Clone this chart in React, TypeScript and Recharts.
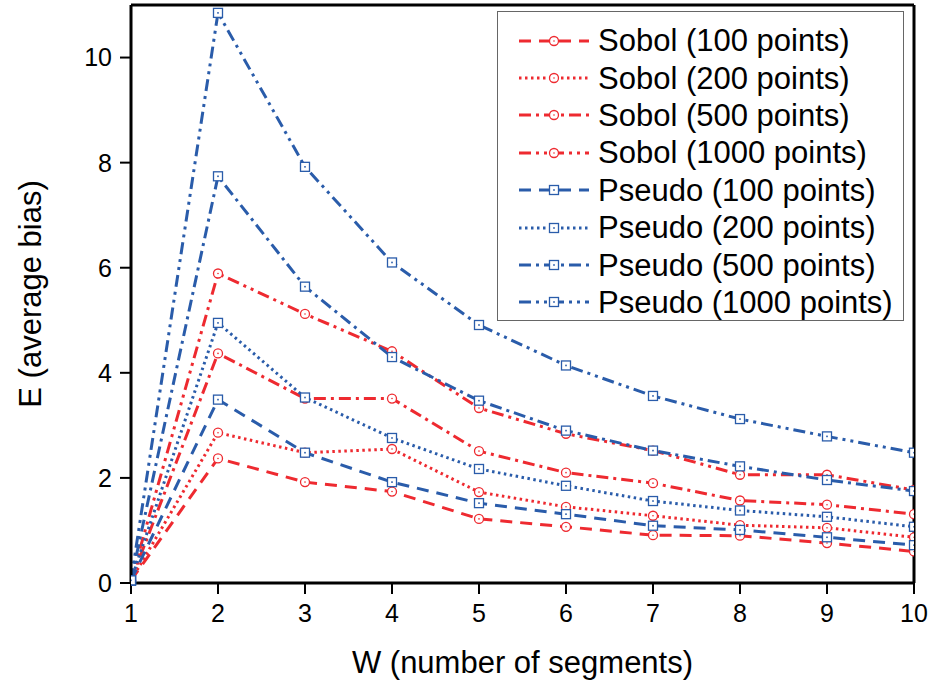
import React from "react";
import { Legend, Line, LineChart, XAxis, YAxis } from "recharts";

// W values (number of segments)
const W = [1, 2, 3, 4, 5, 6, 7, 8, 9, 10];

const sobol100 = [0.05, 2.37, 1.92, 1.74, 1.22, 1.07, 0.91, 0.9, 0.76, 0.6];
const sobol200 = [0.05, 2.86, 2.48, 2.55, 1.73, 1.45, 1.28, 1.1, 1.05, 0.87];
const sobol500 = [0.05, 4.37, 3.51, 3.51, 2.51, 2.1, 1.9, 1.57, 1.49, 1.31];
const sobol1000 = [0.05, 5.89, 5.12, 4.41, 3.33, 2.84, 2.52, 2.06, 2.06, 1.77];
const pseudo100 = [0.05, 3.49, 2.48, 1.92, 1.52, 1.31, 1.09, 1.01, 0.87, 0.72];
const pseudo200 = [0.05, 4.95, 3.53, 2.76, 2.17, 1.85, 1.56, 1.38, 1.26, 1.07];
const pseudo500 = [0.05, 7.74, 5.64, 4.3, 3.47, 2.9, 2.52, 2.22, 1.96, 1.75];
const pseudo1000 = [0.05, 10.85, 7.92, 6.1, 4.91, 4.14, 3.56, 3.12, 2.79, 2.48];

const yTicks = [0, 2, 4, 6, 8, 10];

const RED = "#ee2a30";
const BLUE = "#2a5caa";
const FONT = "'Liberation Sans', Arial, sans-serif";

const DASHED = "12 8";
const DOTTED = "2.5 3.5";
const DASH_DOT = "12 5 3 5";
const DASH_DOT_DOT = "12 5 3 5 3 5";

type Series = { key: string; name: string; color: string; dash: string; shape: "circle" | "square"; values: number[] };

const series: Series[] = [
  { key: "s100", name: "Sobol (100 points)", color: RED, dash: DASHED, shape: "circle", values: sobol100 },
  { key: "s200", name: "Sobol (200 points)", color: RED, dash: DOTTED, shape: "circle", values: sobol200 },
  { key: "s500", name: "Sobol (500 points)", color: RED, dash: DASH_DOT, shape: "circle", values: sobol500 },
  { key: "s1000", name: "Sobol (1000 points)", color: RED, dash: DASH_DOT_DOT, shape: "circle", values: sobol1000 },
  { key: "p100", name: "Pseudo (100 points)", color: BLUE, dash: DASHED, shape: "square", values: pseudo100 },
  { key: "p200", name: "Pseudo (200 points)", color: BLUE, dash: DOTTED, shape: "square", values: pseudo200 },
  { key: "p500", name: "Pseudo (500 points)", color: BLUE, dash: DASH_DOT, shape: "square", values: pseudo500 },
  { key: "p1000", name: "Pseudo (1000 points)", color: BLUE, dash: DASH_DOT_DOT, shape: "square", values: pseudo1000 },
];

const data = W.map((w, i) => {
  const row: Record<string, number> = { w };
  series.forEach((s) => (row[s.key] = s.values[i]));
  return row;
});

function Marker({ cx, cy, s }: { cx: number; cy: number; s: Series }) {
  if (cx == null || cy == null) return null;
  if (s.shape === "circle") {
    return (
      <g>
        <circle cx={cx} cy={cy} r={4.5} fill="#fff" stroke={s.color} strokeWidth={1.3} />
        <circle cx={cx} cy={cy} r={0.8} fill={s.color} />
      </g>
    );
  }
  return (
    <g>
      <rect x={cx - 4.5} y={cy - 4.5} width={9} height={9} fill="#fff" stroke={s.color} strokeWidth={1.3} />
      <rect x={cx - 0.8} y={cy - 0.8} width={1.6} height={1.6} fill={s.color} />
    </g>
  );
}

function LegendBox() {
  return (
    <div
      style={{
        width: 407,
        height: 310,
        border: "1.5px solid #666",
        background: "#fff",
        boxSizing: "border-box",
        paddingTop: 10,
        fontFamily: FONT,
      }}
    >
      {series.map((s) => (
        <div key={s.key} style={{ display: "flex", alignItems: "center", height: 37.4 }}>
          <svg width={70} height={20} style={{ marginLeft: 21, flex: "none" }}>
            <line x1={0} y1={10} x2={70} y2={10} stroke={s.color} strokeWidth={3} strokeDasharray={s.dash} />
            <Marker cx={35} cy={10} s={s} />
          </svg>
          <span style={{ marginLeft: 9, fontSize: 31, color: "#000", whiteSpace: "nowrap", lineHeight: 1 }}>{s.name}</span>
        </div>
      ))}
    </div>
  );
}

export default function App() {
  return (
    <div style={{ position: "absolute", left: 0, top: 0, background: "#fff" }}>
      <LineChart width={930} height={682} data={data} margin={{ top: 0, right: 6, bottom: 39, left: 61 }}>
        <XAxis
          dataKey="w"
          type="number"
          domain={[1, 10]}
          ticks={W}
          allowDataOverflow
          height={60}
          axisLine={{ stroke: "#000", strokeWidth: 3 }}
          tickLine={{ stroke: "#000", strokeWidth: 2 }}
          tickSize={11}
          tickMargin={10}
          tick={{ fill: "#000", fontSize: 25, fontFamily: FONT }}
          label={{
            content: (p: any) => {
              const vb = p.viewBox;
              return (
                <text x={vb.x + vb.width / 2} y={vb.y + 90} textAnchor="middle" fontSize={31} fontFamily={FONT} fill="#000">
                  W (number of segments)
                </text>
              );
            },
          }}
        />
        <XAxis
          xAxisId="top"
          dataKey="w"
          type="number"
          orientation="top"
          domain={[1, 10]}
          ticks={W}
          height={5}
          tick={false}
          tickSize={5}
          axisLine={{ stroke: "#000", strokeWidth: 3 }}
          tickLine={{ stroke: "#000", strokeWidth: 1.5 }}
        />
        <YAxis
          type="number"
          domain={[0, 11]}
          ticks={yTicks}
          width={70}
          axisLine={{ stroke: "#000", strokeWidth: 3 }}
          tickLine={{ stroke: "#000", strokeWidth: 2 }}
          tickSize={11}
          tickMargin={8}
          tick={{ fill: "#000", fontSize: 25, fontFamily: FONT }}
          label={{
            content: (p: any) => {
              const vb = p.viewBox;
              const x = vb.x - 31;
              const y = vb.y + vb.height / 2;
              return (
                <text
                  x={x}
                  y={y}
                  transform={`rotate(-90, ${x}, ${y})`}
                  textAnchor="middle"
                  dominantBaseline="central"
                  fontSize={31}
                  fontFamily={FONT}
                  fill="#000"
                >
                  E (average bias)
                </text>
              );
            },
          }}
        />
        <YAxis
          yAxisId="right"
          orientation="right"
          type="number"
          domain={[0, 11]}
          ticks={yTicks}
          width={10}
          tick={false}
          tickSize={5}
          axisLine={{ stroke: "#000", strokeWidth: 3 }}
          tickLine={{ stroke: "#000", strokeWidth: 1.5 }}
        />
        {series.map((s) => (
          <Line
            key={s.key}
            dataKey={s.key}
            name={s.name}
            type="linear"
            stroke={s.color}
            strokeWidth={3}
            strokeDasharray={s.dash}
            isAnimationActive={false}
            dot={(p: any) => <Marker key={`${s.key}-${p.index}`} cx={p.cx} cy={p.cy} s={s} />}
            activeDot={false}
          />
        ))}
        <Legend
          layout="vertical"
          align="center"
          verticalAlign="middle"
          content={() => <LegendBox />}
          wrapperStyle={{ position: "absolute", left: 497, top: 11, width: 407, height: 310 }}
        />
      </LineChart>
    </div>
  );
}
